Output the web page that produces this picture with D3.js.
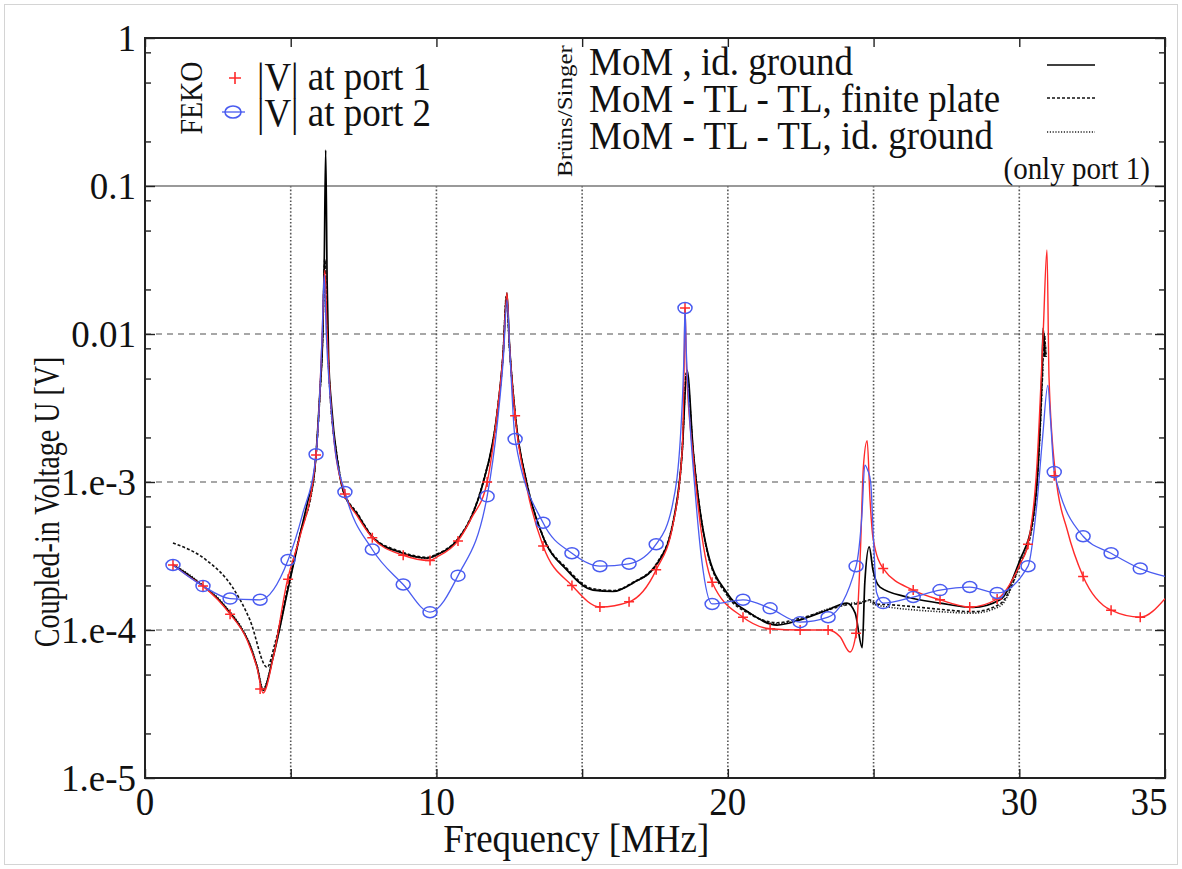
<!DOCTYPE html>
<html lang="en">
<head>
<meta charset="utf-8">
<title>Coupled-in voltage</title>
<script src="https://cdn.jsdelivr.net/npm/d3@7"></script>
<style>
  body { margin: 0; background: #fff; }
</style>
</head>
<body>
<div id="chart"></div>
<script>
// --- data (frequency in MHz, voltage in V) ---

// Brüns/Singer: MoM, id. ground (solid)
var momF = [0.96,1.5,2.0,2.5,2.9,3.3,3.6,3.85,4.05,4.4,4.9,5.3,5.6,5.8,6.0,6.1,6.15,6.2,6.25,6.3,6.4,6.6,6.8,7.3,7.8,8.75,9.7,10.0,10.8,11.2,11.6,12.08,12.29,12.42,12.5,12.7,13.1,13.66,14.48,15.37,16.06,16.75,17.57,18.12,18.43,18.6,18.81,19.29,19.97,20.76,21.69,22.48,23.4,24.09,24.37,24.61,24.7,24.85,24.98,25.22,26.15,27.28,28.41,29.34,30.03,30.44,30.65,30.78,30.82,30.88];
var momV = [2.75e-4,2.35e-4,1.98e-4,1.63e-4,1.32e-4,1.03e-4,7.9e-5,5.6e-5,3.9e-5,6.6e-5,1.86e-4,4.25e-4,7.6e-4,1.1e-3,4.0e-3,1.0e-2,3.0e-2,1.75e-1,2.2e-2,7.0e-3,3.3e-3,1.4e-3,8.7e-4,6.0e-4,4.25e-4,3.35e-4,3.06e-4,3.21e-4,4.25e-4,5.8e-4,9.8e-4,2.9e-3,7.4e-3,1.9e-2,9.0e-3,2.9e-3,9.8e-4,4.25e-4,2.54e-4,1.86e-4,1.82e-4,2.08e-4,2.8e-4,5.3e-4,1.57e-3,5.7e-3,1.64e-3,3.47e-4,1.78e-4,1.3e-4,1.08e-4,1.17e-4,1.36e-4,1.52e-4,1.3e-4,7.6e-5,2.1e-4,3.64e-4,2.54e-4,1.95e-4,1.67e-4,1.52e-4,1.42e-4,1.6e-4,3.0e-4,5.3e-4,1.34e-3,5.7e-3,1.1e-2,7e-3];

// MoM - TL - TL, finite plate (dashed)
var plateF = [0.96,2.1,3.0,3.6,4.19,4.45,4.9,5.3,5.8,6.0,6.1,6.17,6.25,6.35,6.6,6.8,7.3,7.8,8.75,9.7,10.0,10.8,11.2,11.6,12.08,12.29,12.4,12.5,12.7,13.1,13.66,14.48,15.37,16.06,16.75,17.57,18.12,18.43,18.58,18.81,19.29,19.97,20.76,21.69,22.48,23.4,24.09,24.6,24.85,25.1,25.6,26.15,27.28,28.41,29.34,30.03,30.44,30.65,30.8,30.85,30.92];
var plateV = [3.87e-4,2.97e-4,1.95e-4,1.17e-4,5.6e-5,8e-5,1.95e-4,4.3e-4,1.1e-3,3.8e-3,1.0e-2,3.2e-2,1.0e-2,4.0e-3,1.45e-3,8.9e-4,6.1e-4,4.3e-4,3.4e-4,3.1e-4,3.25e-4,4.3e-4,5.9e-4,1.0e-3,2.9e-3,7.5e-3,1.8e-2,8.5e-3,2.9e-3,1.0e-3,4.3e-4,2.6e-4,1.9e-4,1.85e-4,2.1e-4,2.85e-4,5.4e-4,1.6e-3,5.5e-3,1.6e-3,3.4e-4,1.72e-4,1.28e-4,1.12e-4,1.2e-4,1.36e-4,1.48e-4,1.52e-4,1.6e-4,1.5e-4,1.48e-4,1.45e-4,1.38e-4,1.33e-4,1.5e-4,2.8e-4,5.0e-4,1.3e-3,5.5e-3,1.0e-2,7e-3];

// MoM - TL - TL, id. ground (dotted)
var groundF = [0.96,1.5,2.0,2.5,2.9,3.3,3.6,3.85,4.05,4.4,4.9,5.3,5.8,6.0,6.1,6.17,6.25,6.35,6.6,6.8,7.3,7.8,8.75,9.7,10.0,10.8,11.2,11.6,12.08,12.29,12.4,12.5,12.7,13.1,13.66,14.48,15.37,16.06,16.75,17.57,18.12,18.43,18.58,18.81,19.29,19.97,20.76,21.69,22.48,23.4,24.09,24.6,24.8,25.0,25.6,26.15,27.28,28.41,29.34,30.03,30.44,30.65,30.8,30.85,30.92];
var groundV = [2.78e-4,2.38e-4,2.0e-4,1.65e-4,1.34e-4,1.05e-4,8.0e-5,5.7e-5,4.0e-5,6.7e-5,1.88e-4,4.3e-4,1.1e-3,3.9e-3,1.0e-2,3.0e-2,1.0e-2,4.0e-3,1.42e-3,8.8e-4,6.0e-4,4.25e-4,3.35e-4,3.05e-4,3.2e-4,4.25e-4,5.8e-4,9.8e-4,2.9e-3,7.4e-3,1.8e-2,8.5e-3,2.9e-3,9.8e-4,4.25e-4,2.55e-4,1.88e-4,1.83e-4,2.08e-4,2.8e-4,5.3e-4,1.58e-3,5.5e-3,1.6e-3,3.4e-4,1.75e-4,1.3e-4,1.1e-4,1.18e-4,1.38e-4,1.5e-4,1.55e-4,1.58e-4,1.5e-4,1.42e-4,1.38e-4,1.33e-4,1.3e-4,1.45e-4,2.8e-4,5.0e-4,1.3e-3,5.5e-3,1.0e-2,7e-3];

// FEKO |V| at port 1 (red)
var port1F = [0.96,1.5,1.99,2.5,2.92,3.5,3.85,4.05,4.4,4.87,5.32,5.77,5.87,6.0,6.08,6.17,6.25,6.35,6.5,6.86,7.28,7.8,8.86,9.78,10.0,10.74,11.2,11.74,12.08,12.29,12.42,12.5,12.7,13.11,13.66,14.65,15.61,16.61,17.54,18.12,18.43,18.5,18.53,18.58,18.81,19.46,20.52,21.45,22.48,23.44,23.85,24.19,24.4,24.55,24.65,24.78,24.88,24.98,25.33,26.36,27.28,28.3,29.24,30.03,30.3,30.61,30.82,30.95,31.02,31.25,31.65,32.19,33.15,34.15,35.0];
var port1V = [2.75e-4,2.3e-4,1.98e-4,1.6e-4,1.28e-4,8.6e-5,5.5e-5,3.75e-5,6.5e-5,2.1e-4,4.3e-4,1.03e-3,1.52e-3,4.0e-3,1.0e-2,2.7e-2,1.0e-2,4.0e-3,1.8e-3,8.3e-4,5.9e-4,4.2e-4,3.2e-4,2.95e-4,3.1e-4,4.0e-4,5.7e-4,1.0e-3,2.9e-3,7.4e-3,1.9e-2,9.0e-3,2.8e-3,9.0e-4,3.7e-4,2.0e-4,1.43e-4,1.55e-4,2.55e-4,5.2e-4,1.6e-3,6.0e-3,1.5e-2,6.0e-3,1.5e-3,2.1e-4,1.22e-4,1.02e-4,1.0e-4,1.0e-4,9.0e-5,7.1e-5,9.5e-5,3.47e-4,1.26e-3,1.9e-3,7.5e-4,4.2e-4,2.6e-4,1.86e-4,1.6e-4,1.43e-4,1.62e-4,2.8e-4,3.8e-4,1.34e-3,1.02e-2,3.7e-2,5.1e-3,1.1e-3,4.7e-4,2.3e-4,1.36e-4,1.22e-4,1.63e-4];

// FEKO |V| at port 2 (blue)
var port2F = [0.96,1.99,2.92,3.95,4.91,5.4,5.87,6.0,6.08,6.15,6.22,6.35,6.5,6.86,7.8,8.86,9.78,10.74,11.74,12.1,12.3,12.42,12.52,12.7,13.66,14.65,15.61,16.61,17.54,18.1,18.4,18.5,18.53,18.57,18.7,18.85,19.1,19.46,20.52,21.45,22.48,23.44,24.4,24.6,24.7,24.8,24.9,25.0,25.1,25.33,26.36,27.28,28.3,29.24,30.3,30.6,30.8,30.98,31.08,31.2,32.19,33.15,34.15,35.0];
var port2V = [2.75e-4,1.98e-4,1.63e-4,1.6e-4,2.97e-4,6.0e-4,1.54e-3,4.0e-3,1.0e-2,2.5e-2,1.0e-2,3.8e-3,1.8e-3,8.55e-4,3.5e-4,2.03e-4,1.32e-4,2.33e-4,8.0e-4,2.6e-3,7.0e-3,1.7e-2,7.5e-3,1.95e-3,5.3e-4,3.3e-4,2.7e-4,2.8e-4,3.8e-4,7.0e-4,2.5e-3,8.0e-3,1.5e-2,8.0e-3,2.5e-3,1.0e-3,3.0e-4,1.5e-4,1.6e-4,1.4e-4,1.13e-4,1.22e-4,2.7e-4,6.0e-4,1.3e-3,1.2e-3,1.0e-3,4.0e-4,1.8e-4,1.52e-4,1.67e-4,1.86e-4,1.95e-4,1.78e-4,2.7e-4,7.0e-4,2.0e-3,4.5e-3,2.5e-3,1.17e-3,4.3e-4,3.3e-4,2.6e-4,2.3e-4];

// FEKO sample frequencies where markers are drawn
var markerF = [0.96,1.99,2.92,3.95,4.91,5.87,6.86,7.8,8.86,9.78,10.74,11.74,12.7,13.66,14.65,15.61,16.61,17.54,18.53,19.46,20.52,21.45,22.48,23.44,24.4,25.33,26.36,27.28,28.3,29.24,30.3,31.2,32.19,33.15,34.15];
var port1MarkV = [2.75e-4,1.98e-4,1.28e-4,4.0e-5,2.2e-4,1.52e-3,8.3e-4,4.2e-4,3.2e-4,2.95e-4,4.0e-4,1.0e-3,2.8e-3,3.7e-4,2.0e-4,1.43e-4,1.55e-4,2.55e-4,1.5e-2,2.1e-4,1.22e-4,1.02e-4,1.0e-4,1.0e-4,9.5e-5,2.6e-4,1.86e-4,1.6e-4,1.43e-4,1.62e-4,3.8e-4,1.1e-3,2.3e-4,1.36e-4,1.22e-4];
var port2MarkV = [2.75e-4,1.98e-4,1.63e-4,1.6e-4,2.97e-4,1.54e-3,8.55e-4,3.5e-4,2.03e-4,1.32e-4,2.33e-4,8.0e-4,1.95e-3,5.3e-4,3.3e-4,2.7e-4,2.8e-4,3.8e-4,1.5e-2,1.5e-4,1.6e-4,1.4e-4,1.13e-4,1.22e-4,2.7e-4,1.52e-4,1.67e-4,1.86e-4,1.95e-4,1.78e-4,2.7e-4,1.17e-3,4.3e-4,3.3e-4,2.6e-4];

// ticks
var xLabelTicks = [0, 10, 20, 30, 35];
var xTicks = [0, 5, 10, 15, 20, 25, 30, 35];
var xGrid = [5, 10, 15, 20, 25, 30];
var yMajor = [1e-5, 1e-4, 1e-3, 1e-2, 1e-1, 1];
var yLabels = ["1.e-5", "1.e-4", "1.e-3", "0.01", "0.1", "1"];
var yGrid = [1e-4, 1e-3, 1e-2];
var yMinorMult = [2, 5, 8];

var W = 1182, H = 869;
var margin = {top: 38, right: 17, bottom: 91, left: 145};
var width = W - margin.left - margin.right,
    height = H - margin.top - margin.bottom;
var serif = "'Liberation Serif', 'DejaVu Serif', 'Times New Roman', Times, serif";

var svg = d3.select("#chart").append("svg")
    .attr("width", W)
    .attr("height", H);

// light picture border
svg.append("rect")
   .attr("x", 4.5).attr("y", 4.5)
   .attr("width", W - 9).attr("height", H - 9)
   .attr("fill", "none").attr("stroke", "#d4d4d4");

var chart = svg.append("g")
    .attr("transform", "translate(" + margin.left + "," + margin.top + ")");

var x = d3.scaleLinear().domain([0, 35]).range([0, width]);
var y = d3.scaleLog().domain([1e-5, 1]).range([height, 0]);

// text helper: the fonts in the picture look a bit tall
function label(g, txt, px, py, o) {
    o = o || {};
    return g.append("text")
        .attr("transform", "translate(" + px + "," + py + ") rotate(" + (o.rot || 0) + ") scale(" + (o.sx || 1) + "," + (o.sy || 1.1) + ")")
        .attr("text-anchor", o.anchor || "start")
        .attr("font-family", serif)
        .attr("fill", "#111")
        .attr("font-size", o.size || 30)
        .text(txt);
}

// grid
chart.selectAll(".hgrid").data(yGrid).enter().append("line")
     .attr("x1", 0).attr("x2", width)
     .attr("y1", function(d) { return y(d); }).attr("y2", function(d) { return y(d); })
     .attr("stroke", "#8a8a8a").attr("stroke-width", 1.6).attr("stroke-dasharray", "6,5");
chart.selectAll(".vgrid").data(xGrid).enter().append("line")
     .attr("x1", function(d) { return x(d); }).attr("x2", function(d) { return x(d); })
     .attr("y1", y(0.1)).attr("y2", height)
     .attr("stroke", "#555").attr("stroke-width", 1.6).attr("stroke-dasharray", "1.6,2");
// legend box separator at 0.1
chart.append("line")
     .attr("x1", 0).attr("x2", width).attr("y1", y(0.1)).attr("y2", y(0.1))
     .attr("stroke", "#777").attr("stroke-width", 1.6);

// axes (ticks pointing inward)
var minorY = [];
yMajor.slice(0, -1).forEach(function(d) { yMinorMult.forEach(function(m) { minorY.push(d * m); }); });

chart.append("g").attr("transform", "translate(0," + height + ")")
     .call(d3.axisBottom(x).tickValues(xTicks).tickSize(-9).tickFormat(""));
chart.append("g")
     .call(d3.axisTop(x).tickValues(xTicks).tickSize(-9).tickFormat(""));
chart.append("g")
     .call(d3.axisLeft(y).tickValues(yMajor).tickSize(-10).tickFormat(""));
chart.append("g")
     .call(d3.axisLeft(y).tickValues(minorY).tickSize(-6).tickFormat(""));
chart.append("g").attr("transform", "translate(" + width + ",0)")
     .call(d3.axisRight(y).tickValues(yMajor).tickSize(-10).tickFormat(""));
chart.append("g").attr("transform", "translate(" + width + ",0)")
     .call(d3.axisRight(y).tickValues(minorY).tickSize(-6).tickFormat(""));
chart.selectAll(".domain").remove();
chart.selectAll(".tick line").attr("stroke", "#222").attr("stroke-width", 1.4);

// frame
chart.append("rect")
     .attr("width", width).attr("height", height)
     .attr("fill", "none").attr("stroke", "#222").attr("stroke-width", 2);

// tick labels
yMajor.forEach(function(d, i) {
    label(chart, yLabels[i], -9, y(d) + 13, {anchor: "end", size: 37, sy: 1.05});
});
xLabelTicks.forEach(function(d) {
    label(chart, String(d), x(d) - (d === 35 ? 16 : 0), height + 37, {anchor: "middle", size: 37, sy: 1.08});
});

// axis titles
label(chart, "Frequency [MHz]", x(14.8), height + 74, {anchor: "middle", size: 37, sy: 1.1});
label(chart, "Coupled-in Voltage U  [V]", -86, y(1e-3) + 20, {anchor: "middle", size: 28, rot: -90, sy: 1.3});

// curves
chart.append("clipPath").attr("id", "plotclip")
     .append("rect").attr("width", width).attr("height", height);
var plot = chart.append("g").attr("clip-path", "url(#plotclip)");

var line = d3.line()
    .x(function(d) { return x(d[0]); })
    .y(function(d) { return y(d[1]); })
    .curve(d3.curveMonotoneX);

function pairs(fs, vs) { return fs.map(function(f, i) { return [f, vs[i]]; }); }

plot.append("path").datum(pairs(plateF, plateV))
    .attr("d", line).attr("fill", "none")
    .attr("stroke", "#111").attr("stroke-width", 1.6).attr("stroke-dasharray", "3,2");
plot.append("path").datum(pairs(groundF, groundV))
    .attr("d", line).attr("fill", "none")
    .attr("stroke", "#222").attr("stroke-width", 1.6).attr("stroke-dasharray", "1.2,1.6");
plot.append("path").datum(pairs(momF, momV))
    .attr("d", line).attr("fill", "none")
    .attr("stroke", "#000").attr("stroke-width", 1.7);

var red = "#ff2a2a", blue = "#4a5cf0";

plot.append("path").datum(pairs(port1F, port1V))
    .attr("d", line).attr("fill", "none")
    .attr("stroke", red).attr("stroke-width", 1.4);
plot.append("path").datum(pairs(port2F, port2V))
    .attr("d", line).attr("fill", "none")
    .attr("stroke", blue).attr("stroke-width", 1.3);

// markers
plot.selectAll(".m1").data(pairs(markerF, port1MarkV)).enter().append("path")
    .attr("transform", function(d) { return "translate(" + x(d[0]) + "," + y(d[1]) + ")"; })
    .attr("d", "M-5,0H5M0,-5V5")
    .attr("stroke", red).attr("stroke-width", 1.5).attr("fill", "none");
plot.selectAll(".m2").data(pairs(markerF, port2MarkV)).enter().append("ellipse")
    .attr("cx", function(d) { return x(d[0]); })
    .attr("cy", function(d) { return y(d[1]); })
    .attr("rx", 7).attr("ry", 5.5)
    .attr("fill", "none").attr("stroke", blue).attr("stroke-width", 1.5);

// legend (left): FEKO
var leg = chart.append("g");
label(leg, "FEKO", 57, 60, {anchor: "middle", size: 28, rot: -90, sy: 1.15});
leg.append("path").attr("d", "M84,40H96M90,34V46")
   .attr("stroke", red).attr("stroke-width", 1.6);
leg.append("line").attr("x1", 77).attr("x2", 100).attr("y1", 74).attr("y2", 74)
   .attr("stroke", blue).attr("stroke-width", 1.3);
leg.append("ellipse").attr("cx", 88).attr("cy", 74).attr("rx", 8).attr("ry", 6)
   .attr("fill", "none").attr("stroke", blue).attr("stroke-width", 1.6);
label(leg, "|V| at port 1", 112, 52, {size: 37});
label(leg, "|V| at port 2", 112, 88, {size: 37});

// legend (right): Brüns/Singer
label(leg, "Brüns/Singer", 427, 73, {anchor: "middle", size: 20, rot: -90, sx: 1.25, sy: 1.1});
label(leg, "MoM , id. ground", 444, 37, {size: 37});
label(leg, "MoM - TL - TL, finite plate", 444, 74, {size: 37});
label(leg, "MoM - TL - TL, id. ground", 444, 111, {size: 37});
label(leg, "(only port 1)", 1005, 141, {anchor: "end", size: 29});
leg.append("line").attr("x1", 902).attr("x2", 950).attr("y1", 27).attr("y2", 27)
   .attr("stroke", "#000").attr("stroke-width", 1.6);
leg.append("line").attr("x1", 902).attr("x2", 950).attr("y1", 60).attr("y2", 60)
   .attr("stroke", "#111").attr("stroke-width", 1.6).attr("stroke-dasharray", "3,2");
leg.append("line").attr("x1", 902).attr("x2", 950).attr("y1", 94).attr("y2", 94)
   .attr("stroke", "#222").attr("stroke-width", 1.6).attr("stroke-dasharray", "1.2,1.6");
</script>
</body>
</html>
